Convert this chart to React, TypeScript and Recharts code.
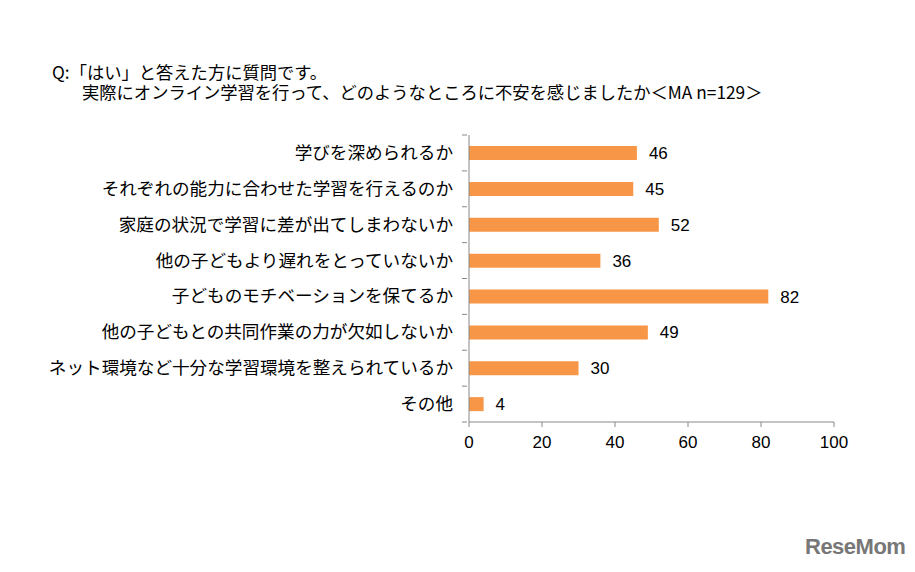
import React from 'react';
import { BarChart, Bar, XAxis, YAxis, LabelList } from 'recharts';

const categories = [
  '学びを深められるか',
  'それぞれの能力に合わせた学習を行えるのか',
  '家庭の状況で学習に差が出てしまわないか',
  '他の子どもより遅れをとっていないか',
  '子どものモチベーションを保てるか',
  '他の子どもとの共同作業の力が欠如しないか',
  'ネット環境など十分な学習環境を整えられているか',
  'その他',
];
const values = [46, 45, 52, 36, 82, 49, 30, 4];
const xTicks = [0, 20, 40, 60, 80, 100];

const data = categories.map((name, i) => ({ name, value: values[i] }));

const JP = '"Noto Sans CJK JP", sans-serif';
const NUM = '"Liberation Sans", Arial, sans-serif';
const BAND = (422 - 135) / categories.length;

const CatTick = (props: any) => {
  const { x, y, payload, index } = props;
  return (
    <g>
      <text x={x - 8} y={y} dy={6} textAnchor="end" fontSize={17.6} fontFamily={JP} fill="#000">
        {payload.value}
      </text>
      <line x1={x + 1} x2={x + 6} y1={y - BAND / 2} y2={y - BAND / 2} stroke="#888" />
      {index === categories.length - 1 && (
        <line x1={x + 1} x2={x + 6} y1={y + BAND / 2} y2={y + BAND / 2} stroke="#888" />
      )}
    </g>
  );
};

export default function App() {
  return (
    <div style={{ position: 'absolute', left: 0, top: 0, width: 915, height: 572, background: '#fff' }}>
      <div style={{ position: 'absolute', left: 52, top: 62, fontFamily: JP, fontSize: 17.3, lineHeight: '20px', color: '#000', whiteSpace: 'nowrap' }}>
        Q:「はい」と答えた方に質問です。
        <br />
        <span style={{ marginLeft: 30 }}>
          実際にオンライン学習を行って、どのようなところに不安を感じましたか＜MA n=129＞
        </span>
      </div>
      <BarChart
        width={915}
        height={572}
        data={data}
        layout="vertical"
        margin={{ top: 135, right: 81, bottom: 120, left: 0 }}
      >
        <XAxis
          type="number"
          domain={[0, 100]}
          ticks={xTicks}
          axisLine={{ stroke: '#888' }}
          tickLine={{ stroke: '#888' }}
          tickSize={5}
          tickMargin={9}
          tick={{ fontSize: 17, fontFamily: NUM, fill: '#000' }}
          height={30}
          interval={0}
        />
        <YAxis
          type="category"
          dataKey="name"
          width={469}
          axisLine={{ stroke: '#888' }}
          tickLine={false}
          tick={<CatTick />}
          interval={0}
        />
        <Bar dataKey="value" fill="#F79646" barSize={14} isAnimationActive={false}>
          <LabelList dataKey="value" position="right" offset={12} fontSize={17} fontFamily={NUM} fill="#000" />
        </Bar>
      </BarChart>
      <div style={{ position: 'absolute', left: 805, top: 534, fontFamily: NUM, fontWeight: 'bold', fontSize: 22, color: '#777', letterSpacing: -0.5 }}>
        ReseMom
      </div>
    </div>
  );
}
